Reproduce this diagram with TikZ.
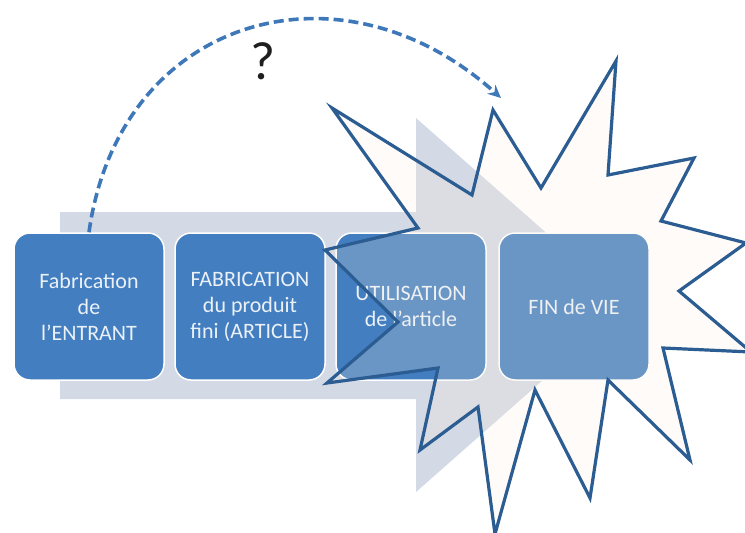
\documentclass[tikz,border=0pt]{standalone}
\usepackage{fontspec}
\setmainfont{Carlito}
\usetikzlibrary{arrows.meta}
\definecolor{boxblue}{RGB}{66,126,192}
\definecolor{boxtext}{RGB}{236,241,248}
\definecolor{arrowgray}{RGB}{211,217,229}
\definecolor{starline}{RGB}{43,92,146}
\definecolor{starcream}{RGB}{250,238,222}
\definecolor{dashblue}{RGB}{62,120,184}
\tikzset{
  stepbox/.style={draw=white, line width=1.5pt, fill=boxblue, rounded corners=16pt,
    minimum width=150pt, minimum height=147pt, align=center, text=boxtext,
    font=\fontsize{22}{26}\selectfont, inner sep=2pt},
  bigarrow/.style={fill=arrowgray, draw=none},
  burst/.style={draw=starline, line width=3.2pt, line join=miter, miter limit=20,
    fill=starcream, fill opacity=0.22},
  dasharrow/.style={draw=dashblue, line width=3.6pt, dash pattern=on 10pt off 5pt,
    -{Stealth[length=13pt,width=12pt]}}
}
\begin{document}
\begin{tikzpicture}[x=1pt,y=-1pt]
\useasboundingbox (0,0) rectangle (745,533);
\clip (0,0) rectangle (745,533);
% background block arrow
\path[bigarrow] (60,212) -- (416,212) -- (416,118) -- (628,305) -- (416,492) -- (416,399) -- (60,399) -- cycle;
% steps
\node[stepbox] (b1) at (89,306.5) {Fabrication\\de\\l’ENTRANT};
\node[stepbox] (b2) at (250,306.5) {FABRICATION\\du produit\\fini (ARTICLE)};
\node[stepbox] (b3) at (411,306.5) {UTILISATION\\de l’article};
\node[stepbox] (b4) at (574,306.5) {FIN de VIE};
% starburst
\path[burst] (332,108) -- (472,195) -- (493,110) -- (541,188) -- (616,61) -- (608,175)
  -- (694,158) -- (661,221) -- (746,243) -- (679,291) -- (751,352) -- (663,348)
  -- (690,460) -- (608,380) -- (590,498) -- (535,390) -- (495,534) -- (478,407)
  -- (420,450) -- (438,368) -- (327,383) -- (398,322) -- (325,250) -- (418,228) -- cycle;
% dashed question arrow
\coordinate (qend) at (501,98);
\draw[dasharrow] (b1.north) .. controls (119,17) and (340,-47) .. (qend);
\node[font=\fontsize{54}{60}\selectfont, text=black!88] (q) at (263,61) {?};
\end{tikzpicture}
\end{document}
